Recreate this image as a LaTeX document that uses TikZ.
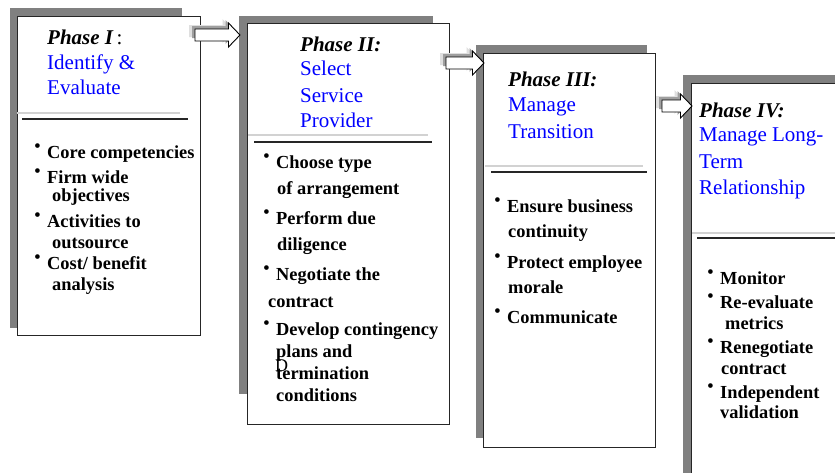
\documentclass[tikz,border=0pt]{standalone}
\usepackage{fontspec}
\setmainfont{Liberation Serif}
\usetikzlibrary{calc}
\definecolor{phaseblue}{RGB}{0,0,255}
\tikzstyle{phasebox} = [draw=black!85, line width=1pt, fill=white, anchor=north west, inner sep=0pt]
\tikzstyle{boxshadow} = [fill=gray]
\tikzstyle{lightrule} = [gray!35, line width=1.5pt]
\tikzstyle{darkrule} = [black!85, line width=1.1pt]
\tikzstyle{phasetitle} = [anchor=base west, inner sep=0pt, font=\fontsize{21}{25}\selectfont\bfseries\itshape]
\tikzstyle{phasename} = [anchor=base west, inner sep=0pt, text=phaseblue, font=\fontsize{21}{25}\selectfont]
\tikzstyle{item} = [anchor=base west, inner sep=0pt, font=\fontsize{18.4}{22}\selectfont\bfseries]
\tikzstyle{bulletdot} = [anchor=base west, inner sep=0pt, font=\fontsize{19.5}{22}\selectfont]
% block arrow outline from tail to tip, moved by (#3,#4)
\newcommand{\arrowpath}[4]{let \p1=($(#1)+(#3,#4)$), \p2=($(#2)+(#3,#4)$) in
  (\x1,\y1+6pt) -- (\x2-11.5pt,\y1+6pt) -- (\x2-11.5pt,\y1+12pt) -- (\x2,\y1)
  -- (\x2-11.5pt,\y1-12pt) -- (\x2-11.5pt,\y1-6pt) -- (\x1,\y1-6pt) -- cycle}
\newcommand{\phasearrow}[2]{%
  \fill[gray!25] \arrowpath{#1}{#2}{-6}{-4};
  \fill[gray!75] \arrowpath{#1}{#2}{-3}{-3};
  \draw[black, line width=0.9pt, fill=white] \arrowpath{#1}{#2}{0}{0};}

\begin{document}
\begin{tikzpicture}[x=1pt, y=-1pt]
\useasboundingbox (0,0) rectangle (835,472);
\fill[white] (0,0) rectangle (835,472);
\clip (0,0) rectangle (835,472);

% boxes with their shadows
\fill[boxshadow] (10,8) rectangle (182,328);
\node[phasebox, minimum width=183pt, minimum height=319pt] (p1) at (17,16) {};
\fill[boxshadow] (239,16) rectangle (433,394);
\node[phasebox, minimum width=202pt, minimum height=401pt] (p2) at (247,23) {};
\fill[boxshadow] (476,45) rectangle (647,438);
\node[phasebox, minimum width=172pt, minimum height=394pt] (p3) at (483,53) {};
\fill[boxshadow] (683,75) rectangle (850,490);
\node[phasebox, minimum width=170pt, minimum height=410pt] (p4) at (691,83) {};

% double rules under the headings
\draw[lightrule] (17,113) -- (180,113);
\draw[darkrule] (22,119) -- (188,119);
\draw[lightrule] (248,135) -- (428,135);
\draw[darkrule] (254,142) -- (432,142);
\draw[lightrule] (485,166) -- (643,166);
\draw[darkrule] (491,172) -- (647,172);
\draw[lightrule] (692,233) -- (840,233);
\draw[darkrule] (697,238) -- (840,238);

% Phase I
\node[phasetitle] (p1head) at (47,44) {Phase I\,{\normalfont\mdseries\upshape:}};
\node[phasename] (p1name1) at (47,69) {Identify \&};
\node[phasename] (p1name2) at (47,94) {Evaluate};
\node[bulletdot] (p1dot1) at (34,152) {•};
\node[item] (p1item1) at (47,158) {Core competencies};
\node[bulletdot] (p1dot2) at (34,177) {•};
\node[item] (p1item2) at (47,183) {Firm wide};
\node[item] (p1item2b) at (52,201) {objectives};
\node[bulletdot] (p1dot3) at (34,221) {•};
\node[item] (p1item3) at (47,227) {Activities to};
\node[item] (p1item3b) at (52,248) {outsource};
\node[bulletdot] (p1dot4) at (34,263) {•};
\node[item] (p1item4) at (47,269) {Cost/ benefit};
\node[item] (p1item4b) at (52,290) {analysis};

% Phase II
\node[phasetitle] (p2head) at (300,51) {Phase II:};
\node[phasename] (p2name1) at (300,75) {Select};
\node[phasename] (p2name2) at (300,102) {Service};
\node[phasename] (p2name3) at (300,127) {Provider};
\node[bulletdot] (p2dot1) at (263,162) {•};
\node[item] (p2item1) at (276,168) {Choose type};
\node[item] (p2item1b) at (277,194) {of arrangement};
\node[bulletdot] (p2dot2) at (263,218) {•};
\node[item] (p2item2) at (276,224) {Perform due};
\node[item] (p2item2b) at (277,250) {diligence};
\node[bulletdot] (p2dot3) at (263,274) {•};
\node[item] (p2item3) at (276,280) {Negotiate the};
\node[item] (p2item3b) at (268,307) {contract};
\node[bulletdot] (p2dot4) at (263,329) {•};
\node[item] (p2item4) at (276,335) {Develop contingency};
\node[item] (p2item4b) at (276,357) {plans and};
\node[anchor=base west, inner sep=0pt, font=\fontsize{18}{18}\selectfont] (p2stray) at (275,371) {D};
\node[item] (p2item4c) at (276,379) {termination};
\node[item] (p2item4d) at (276,401) {conditions};

% Phase III
\node[phasetitle] (p3head) at (508,86) {Phase III:};
\node[phasename] (p3name1) at (508,111) {Manage};
\node[phasename] (p3name2) at (508,138) {Transition};
\node[bulletdot] (p3dot1) at (494,206) {•};
\node[item] (p3item1) at (507,212) {Ensure business};
\node[item] (p3item1b) at (508,237) {continuity};
\node[bulletdot] (p3dot2) at (494,262) {•};
\node[item] (p3item2) at (507,268) {Protect employee};
\node[item] (p3item2b) at (508,293) {morale};
\node[bulletdot] (p3dot3) at (494,317) {•};
\node[item] (p3item3) at (507,323) {Communicate};

% Phase IV
\node[phasetitle] (p4head) at (699,117) {Phase IV:};
\node[phasename] (p4name1) at (699,141) {Manage Long-};
\node[phasename] (p4name2) at (699,168) {Term};
\node[phasename] (p4name3) at (699,194) {Relationship};
\node[bulletdot] (p4dot1) at (707,278) {•};
\node[item] (p4item1) at (720,284) {Monitor};
\node[bulletdot] (p4dot2) at (707,302) {•};
\node[item] (p4item2) at (720,308) {Re-evaluate};
\node[item] (p4item2b) at (725,329) {metrics};
\node[bulletdot] (p4dot3) at (707,347) {•};
\node[item] (p4item3) at (720,353) {Renegotiate};
\node[item] (p4item3b) at (721,374) {contract};
\node[bulletdot] (p4dot4) at (707,392) {•};
\node[item] (p4item4) at (720,398) {Independent};
\node[item] (p4item4b) at (720,418) {validation};

% arrows between the phases
\coordinate (a1s) at (195,35);
\coordinate (a1t) at (240,35);
\coordinate (a2s) at (446,63);
\coordinate (a2t) at (484,63);
\coordinate (a3s) at (662,106);
\coordinate (a3t) at (692,106);
\phasearrow{a1s}{a1t}
\phasearrow{a2s}{a2t}
\phasearrow{a3s}{a3t}
\end{tikzpicture}
\end{document}
